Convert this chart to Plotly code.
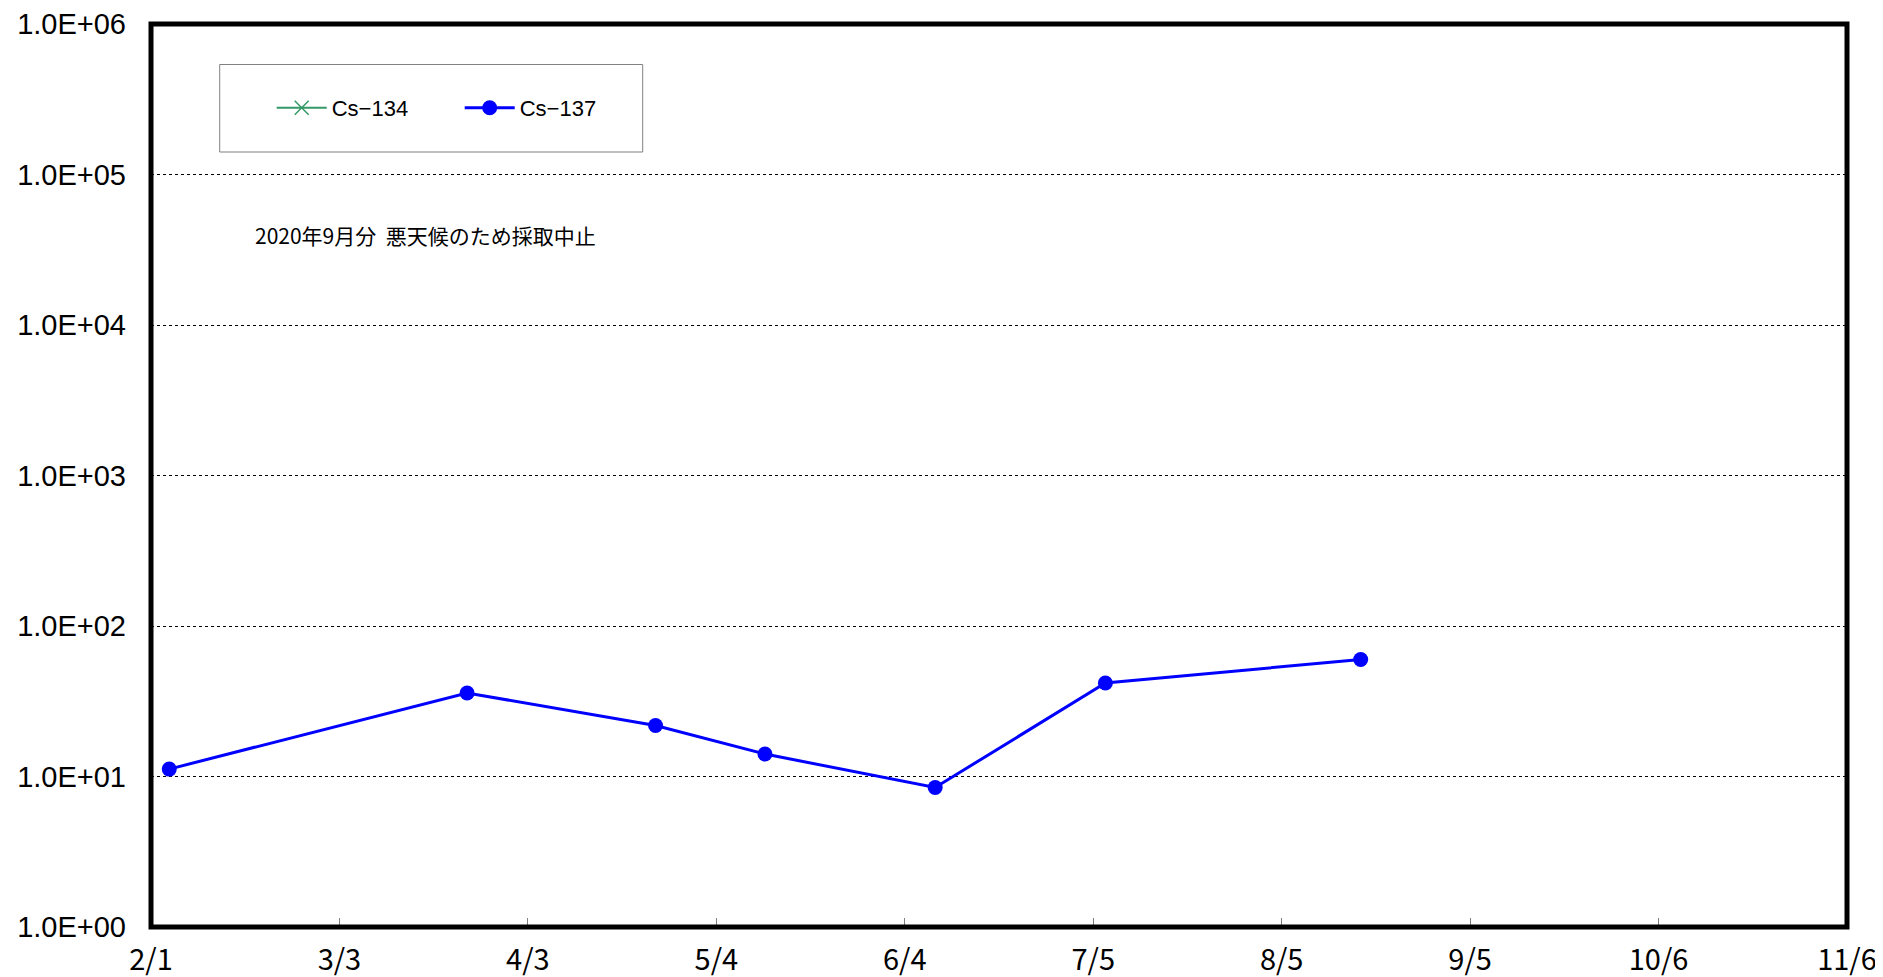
import plotly.graph_objects as go

# ---- data ----
sample_dates = ["2020-02-04", "2020-03-24", "2020-04-24", "2020-05-12",
                "2020-06-09", "2020-07-07", "2020-08-18"]
cs134_values = [None, None, None, None, None, None, None]  # not detected
cs137_values = [11.2, 35.9, 21.8, 14.1, 8.45, 41.8, 59.9]

x_tick_dates = ["2020-02-01", "2020-03-03", "2020-04-03", "2020-05-04", "2020-06-04",
                "2020-07-05", "2020-08-05", "2020-09-05", "2020-10-06", "2020-11-06"]
x_tick_labels = ["2/1", "3/3", "4/3", "5/4", "6/4", "7/5", "8/5", "9/5", "10/6", "11/6"]
y_tick_vals = [1, 10, 100, 1000, 10000, 100000, 1000000]
y_tick_labels = ["1.0E+00", "1.0E+01", "1.0E+02", "1.0E+03", "1.0E+04", "1.0E+05", "1.0E+06"]
note_text = "2020年9月分  悪天候のため採取中止"

# page body has an 8px default margin
PAGE_MARGIN = 8
FIG_W, FIG_H = 1883 - PAGE_MARGIN, 977 - PAGE_MARGIN
X0, Y0, PW, PH = 151.3, 24.0, 1696, 903   # plot area in window pixels
PL, PT = round(X0 - PAGE_MARGIN), round(Y0 - PAGE_MARGIN)


def px(x):
    return (x - X0) / PW


def py(y):
    return (Y0 + PH - y) / PH


fig = go.Figure()
fig.add_trace(go.Scatter(
    x=sample_dates, y=cs134_values, name="Cs−134", mode="lines+markers",
    line=dict(color="#339966", width=2),
    marker=dict(symbol="x-thin", size=14, line=dict(color="#339966", width=1.5)),
))
fig.add_trace(go.Scatter(
    x=sample_dates, y=cs137_values, name="Cs−137", mode="lines+markers",
    line=dict(color="#0000FF", width=3),
    marker=dict(symbol="circle", size=15, color="#0000FF"),
))

# legend frame
fig.add_shape(type="rect", xref="paper", yref="paper",
              x0=px(220), x1=px(643), y0=py(152), y1=py(64.5),
              line=dict(color="#808080", width=1), fillcolor="white", layer="below")
# thick plot frame centred on the plot-area edges
fig.add_shape(type="rect", xref="paper", yref="paper", x0=0, x1=1, y0=0, y1=1,
              line=dict(color="black", width=5), layer="above")

fig.add_annotation(text=note_text, xref="paper", yref="paper",
                   x=px(253), y=py(235),
                   xanchor="left", yanchor="middle", showarrow=False,
                   font=dict(family="Noto Sans CJK JP", size=21, color="black"))

fig.update_layout(
    width=FIG_W, height=FIG_H,
    margin=dict(l=PL, r=FIG_W - PL - PW, t=PT, b=FIG_H - PT - PH, autoexpand=False),
    paper_bgcolor="white", plot_bgcolor="white",
    showlegend=True,
    legend=dict(orientation="h", x=px(272), y=py(108),
                xanchor="left", yanchor="middle",
                bgcolor="rgba(0,0,0,0)", borderwidth=0,
                font=dict(family="Liberation Sans", size=22, color="black"),
                entrywidth=123, entrywidthmode="pixels", itemwidth=50),
    xaxis=dict(
        type="date", range=["2020-02-01", "2020-11-06"],
        tickvals=x_tick_dates, ticktext=x_tick_labels,
        ticks="inside", ticklen=9, tickcolor="#808080", tickwidth=1,
        showline=False, showgrid=False, zeroline=False, automargin=False,
        ticklabelstandoff=13, ticklabeloverflow="allow",
        tickfont=dict(family="Noto Sans CJK JP", size=29, color="black"),
    ),
    yaxis=dict(
        type="log", range=[0, 6],
        tickvals=y_tick_vals, ticktext=y_tick_labels,
        ticks="", showline=False,
        showgrid=True, gridcolor="black", gridwidth=1, griddash="dot",
        zeroline=False, automargin=False, ticklabelstandoff=24,
        ticklabeloverflow="allow",
        tickfont=dict(family="Liberation Sans", size=29, color="black"),
    ),
)

fig.write_html("out.html")
